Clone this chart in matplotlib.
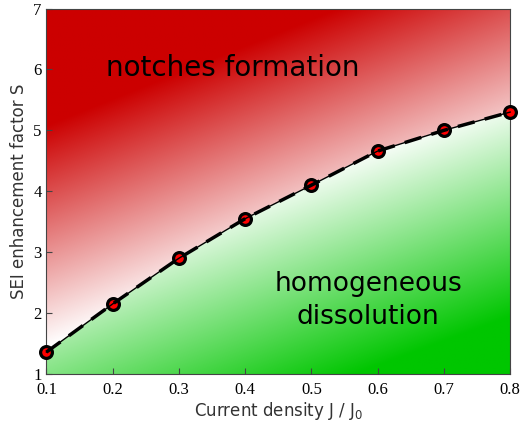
import numpy as np
import matplotlib
matplotlib.use("Agg")
import matplotlib.pyplot as plt

# data
current_density = [0.1, 0.2, 0.3, 0.4, 0.5, 0.6, 0.7, 0.8]
sei_factor = [1.36, 2.15, 2.90, 3.55, 4.10, 4.66, 5.00, 5.30]
x_ticks = [0.1, 0.2, 0.3, 0.4, 0.5, 0.6, 0.7, 0.8]
y_ticks = [1, 2, 3, 4, 5, 6, 7]

RED = np.array([204, 0, 0]) / 255.0
GREEN = np.array([0, 198, 0]) / 255.0
WHITE = np.array([1.0, 1.0, 1.0])

fig = plt.figure(figsize=(5.27, 4.26), dpi=100)
ax = fig.add_axes([0.088, 0.122, 0.88, 0.858])

# background: two linear gradients split by the boundary curve
xs = np.linspace(0.1, 0.8, 400)
ys = np.linspace(1, 7, 400)
X, Y = np.meshgrid(xs, ys)
fx = (X - 0.1) / 0.7
fy = (Y - 1) / 6.0
above = Y >= np.interp(X, current_density, sei_factor)
t_red = np.clip(-0.12 - 0.835 * fx + 1.647 * fy, 0, 1)[..., None]
t_green = np.clip(0.48 + 0.775 * fx - 1.647 * fy, 0, 1)[..., None]
img = np.where(above[..., None],
               WHITE * (1 - t_red) + RED * t_red,
               WHITE * (1 - t_green) + GREEN * t_green)
ax.imshow(img, origin="lower", extent=[0.1, 0.8, 1, 7], aspect="auto",
          interpolation="bilinear", zorder=0)

ax.plot(current_density, sei_factor, "o", ms=8.5, mfc="#ff0000", mec="black",
        mew=2.3, zorder=3, clip_on=False)
ax.plot(current_density, sei_factor, "-", color="black", lw=1, zorder=4, clip_on=False)
ax.plot(current_density, sei_factor, "--", color="black", lw=2.5, dashes=(5, 3),
        zorder=4, clip_on=False)

ax.text(0.382, 6.03, "notches formation", fontsize=20, ha="center", va="center")
ax.text(0.586, 2.2, "homogeneous\ndissolution", fontsize=19, ha="center", va="center",
        linespacing=1.35)

ax.set_xlim(0.1, 0.8)
ax.set_ylim(1, 7)
ax.set_xticks(x_ticks)
ax.set_yticks(y_ticks)
ax.set_xticklabels([f"{v:.1f}" for v in x_ticks], family="Liberation Serif", fontsize=12)
ax.set_yticklabels([str(v) for v in y_ticks], family="Liberation Serif", fontsize=12)
ax.tick_params(direction="in", length=4, color="#444444")
ax.tick_params(axis="x", pad=6)
for s in ax.spines.values():
    s.set_color("#444444")

ax.set_xlabel("Current density J / J$_0$", fontsize=12, color="#333333", labelpad=1)
ax.set_ylabel("SEI enhancement factor S", fontsize=12, color="#333333", labelpad=4)

fig.savefig("out.png", dpi=100)
